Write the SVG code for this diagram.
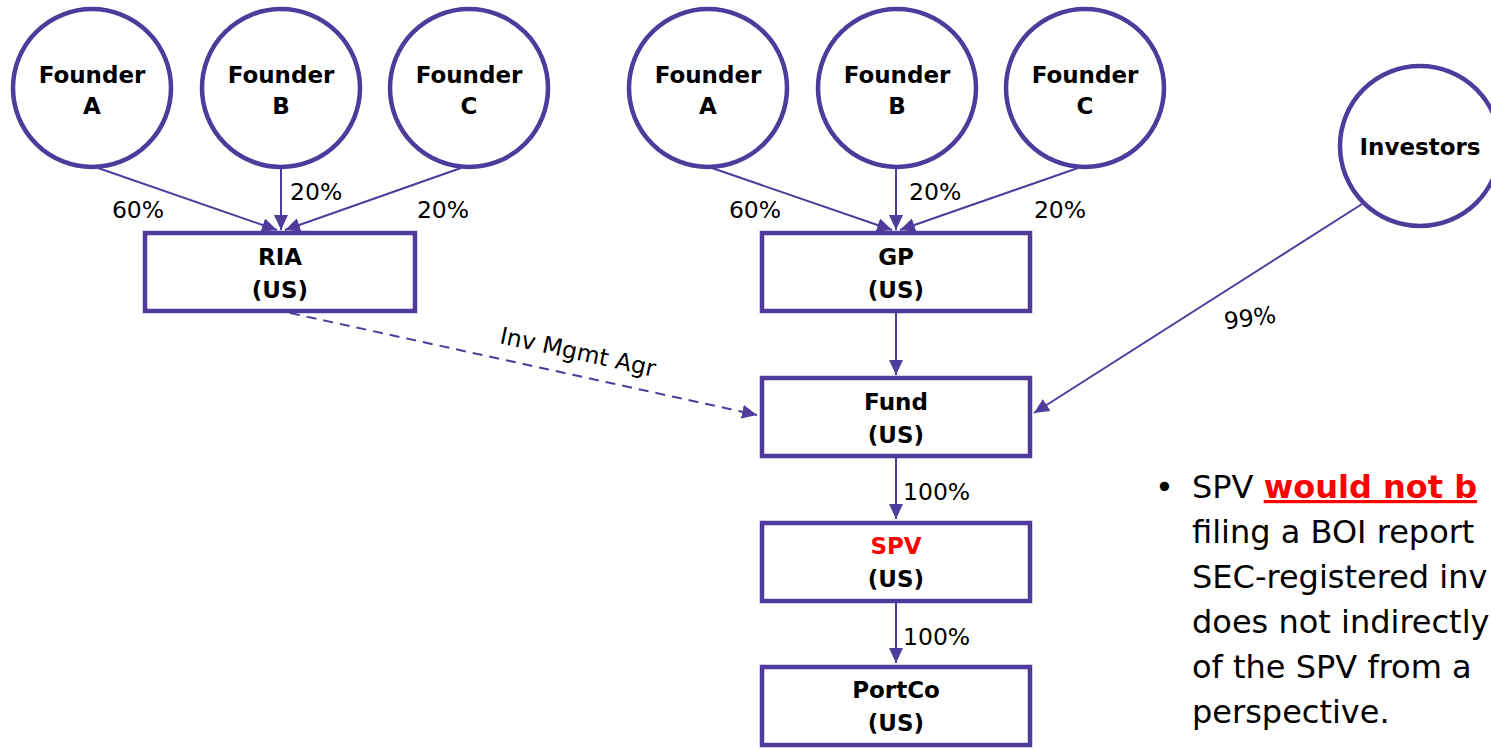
<svg xmlns="http://www.w3.org/2000/svg" width="1491" height="748" viewBox="0 0 1491 748">
  <defs>
    <marker id="arrow" markerUnits="userSpaceOnUse" markerWidth="16" markerHeight="14" refX="15" refY="7" orient="auto">
      <path d="M0,0 L15,7 L0,14 Z" fill="#4F3B9B"/>
    </marker>
    <style>
      .circle { fill: #fff; stroke: #4F3B9B; stroke-width: 4.5; }
      .box { fill: #fff; stroke: #4F3B9B; stroke-width: 4.5; }
      .node-text { font-family: "DejaVu Sans", Verdana, sans-serif; font-weight: bold; font-size: 23px; fill: #000; text-anchor: middle; }
      .edge { stroke: #4F3B9B; stroke-width: 2; fill: none; }
      .dashed { stroke-dasharray: 10 7; }
      .edge-label { font-family: "DejaVu Sans", Verdana, sans-serif; font-size: 23.5px; fill: #000; }
      .note { font-family: "DejaVu Sans", Verdana, sans-serif; font-size: 32px; fill: #000; }
    </style>
  </defs>

  <!-- connectors -->
  <g id="connectors">
    <!-- founders to RIA -->
    <line class="edge" x1="98" y1="168" x2="277" y2="230" marker-end="url(#arrow)"/>
    <line class="edge" x1="281" y1="169" x2="281" y2="230" marker-end="url(#arrow)"/>
    <line class="edge" x1="461" y1="168" x2="285" y2="230" marker-end="url(#arrow)"/>
    <text class="edge-label" x="138" y="218" text-anchor="middle">60%</text>
    <text class="edge-label" x="290" y="200">20%</text>
    <text class="edge-label" x="443" y="218" text-anchor="middle">20%</text>

    <!-- founders to GP -->
    <line class="edge" x1="712" y1="168" x2="892" y2="230" marker-end="url(#arrow)"/>
    <line class="edge" x1="896" y1="169" x2="896" y2="230" marker-end="url(#arrow)"/>
    <line class="edge" x1="1078" y1="168" x2="900" y2="230" marker-end="url(#arrow)"/>
    <text class="edge-label" x="755" y="218" text-anchor="middle">60%</text>
    <text class="edge-label" x="909" y="200">20%</text>
    <text class="edge-label" x="1060" y="218" text-anchor="middle">20%</text>

    <!-- investors to fund -->
    <line class="edge" x1="1362" y1="204" x2="1034" y2="413" marker-end="url(#arrow)"/>
    <text class="edge-label" x="1250" y="326" text-anchor="middle" transform="rotate(-8 1250 318)">99%</text>

    <!-- RIA management agreement -->
    <line class="edge dashed" x1="290" y1="313" x2="757" y2="415" marker-end="url(#arrow)"/>
    <text class="edge-label" x="578" y="360" text-anchor="middle" transform="rotate(12.3 578 352)">Inv Mgmt Agr</text>

    <!-- vertical chain -->
    <line class="edge" x1="896" y1="313" x2="896" y2="375" marker-end="url(#arrow)"/>
    <line class="edge" x1="896" y1="458" x2="896" y2="519" marker-end="url(#arrow)"/>
    <text class="edge-label" x="903" y="500">100%</text>
    <line class="edge" x1="896" y1="603" x2="896" y2="663" marker-end="url(#arrow)"/>
    <text class="edge-label" x="903" y="645">100%</text>
  </g>

  <!-- left ownership group -->
  <g id="founder-a-left">
    <circle class="circle" cx="92" cy="88" r="79"/>
    <text class="node-text" x="92" y="83">Founder</text>
    <text class="node-text" x="92" y="114">A</text>
  </g>
  <g id="founder-b-left">
    <circle class="circle" cx="281" cy="88" r="79"/>
    <text class="node-text" x="281" y="83">Founder</text>
    <text class="node-text" x="281" y="114">B</text>
  </g>
  <g id="founder-c-left">
    <circle class="circle" cx="469" cy="88" r="79"/>
    <text class="node-text" x="469" y="83">Founder</text>
    <text class="node-text" x="469" y="114">C</text>
  </g>
  <g id="ria">
    <rect class="box" x="145" y="233" width="270" height="78"/>
    <text class="node-text" x="280" y="265">RIA</text>
    <text class="node-text" x="280" y="298">(US)</text>
  </g>

  <!-- fund ownership group -->
  <g id="founder-a-gp">
    <circle class="circle" cx="708" cy="88" r="79"/>
    <text class="node-text" x="708" y="83">Founder</text>
    <text class="node-text" x="708" y="114">A</text>
  </g>
  <g id="founder-b-gp">
    <circle class="circle" cx="897" cy="88" r="79"/>
    <text class="node-text" x="897" y="83">Founder</text>
    <text class="node-text" x="897" y="114">B</text>
  </g>
  <g id="founder-c-gp">
    <circle class="circle" cx="1085" cy="88" r="79"/>
    <text class="node-text" x="1085" y="83">Founder</text>
    <text class="node-text" x="1085" y="114">C</text>
  </g>
  <g id="investors">
    <circle class="circle" cx="1420" cy="146" r="80"/>
    <text class="node-text" x="1420" y="155">Investors</text>
  </g>
  <g id="gp">
    <rect class="box" x="762" y="233" width="268" height="78"/>
    <text class="node-text" x="896" y="265">GP</text>
    <text class="node-text" x="896" y="298">(US)</text>
  </g>
  <g id="fund">
    <rect class="box" x="762" y="378" width="268" height="78"/>
    <text class="node-text" x="896" y="410">Fund</text>
    <text class="node-text" x="896" y="443">(US)</text>
  </g>
  <g id="spv">
    <rect class="box" x="762" y="523" width="268" height="78"/>
    <text class="node-text" x="896" y="554" style="fill:#FF0000">SPV</text>
    <text class="node-text" x="896" y="587">(US)</text>
  </g>
  <g id="portco">
    <rect class="box" x="762" y="667" width="268" height="78"/>
    <text class="node-text" x="896" y="698">PortCo</text>
    <text class="node-text" x="896" y="731">(US)</text>
  </g>

  <!-- explanatory note -->
  <g id="note">
    <text class="note" x="1155" y="498">•</text>
    <text class="note" x="1192" y="498">SPV <tspan font-weight="bold" fill="#FF0000" text-decoration="underline">would not b</tspan></text>
    <text class="note" x="1192" y="543">filing a BOI report</text>
    <text class="note" x="1192" y="588">SEC-registered inv</text>
    <text class="note" x="1192" y="633">does not indirectly</text>
    <text class="note" x="1192" y="678">of the SPV from a</text>
    <text class="note" x="1192" y="723">perspective.</text>
  </g>
</svg>
